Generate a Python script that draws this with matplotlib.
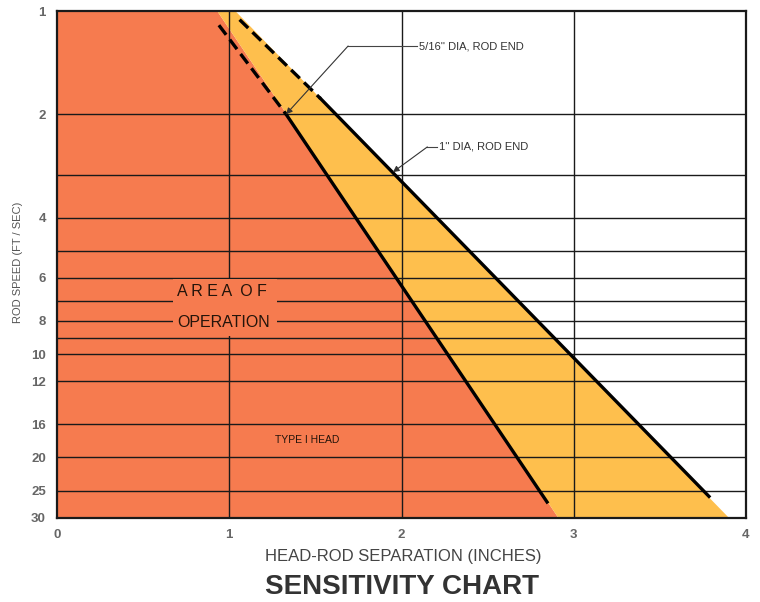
import matplotlib
matplotlib.use('Agg')
import matplotlib.pyplot as plt
from matplotlib.patches import Rectangle

plt.rcParams['font.family'] = ['Liberation Sans', 'DejaVu Sans']

# axis ticks and grid
x_ticks = [0, 1, 2, 3, 4]
y_ticks = [1, 2, 4, 6, 8, 10, 12, 16, 20, 25, 30]
y_grid = [2, 3, 4, 5, 6, 7, 8, 9, 10, 12, 16, 20, 25]
x_grid = [1, 2, 3]

# filled regions (edge positions read at y=1 and y=30)
orange_x = [0, 0.93, 2.91, 0]
orange_y = [1, 1, 30, 30]
yellow_x = [0.93, 1.035, 3.90, 2.91]
yellow_y = [1, 1, 30, 30]

# 5/16" rod end line
inner_dash_x = [0.94, 1.33]
inner_dash_y = [1.1, 2.0]
inner_solid_x = [1.33, 2.845]
inner_solid_y = [2.0, 27.0]

# 1" rod end line
outer_dash_x = [1.06, 1.53]
outer_dash_y = [1.06, 1.8]
outer_solid_x = [1.53, 3.785]
outer_solid_y = [1.8, 26.0]

ORANGE = '#F67B4F'
YELLOW = '#FEBF4D'
GREY = '#555555'

fig = plt.figure(figsize=(7.6, 6.02), dpi=100)
ax = fig.add_axes([57 / 760, 1 - 517.7 / 602, 689 / 760, 506.7 / 602])

ax.set_yscale('log')
ax.set_xlim(0, 4)
ax.set_ylim(30, 1)

ax.fill(orange_x, orange_y, color=ORANGE, lw=0, zorder=1)
ax.fill(yellow_x, yellow_y, color=YELLOW, lw=0, zorder=1)

for g in y_grid:
    ax.axhline(g, color='#1a1a1a', lw=1.0, zorder=2)
for g in x_grid:
    ax.axvline(g, color='#1a1a1a', lw=1.0, zorder=2)

# blank patch behind the "area of operation" text
ax.add_patch(Rectangle((0.675, 6.05), 0.60, 8.85 - 6.05, facecolor=ORANGE,
                       edgecolor='none', zorder=3))

ax.plot(inner_dash_x, inner_dash_y, color='black', lw=2.4, ls=(0, (3.6, 1.8)),
        zorder=4)
ax.plot(inner_solid_x, inner_solid_y, color='black', lw=2.4, zorder=4)
ax.plot(outer_dash_x, outer_dash_y, color='black', lw=2.4, ls=(0, (3.6, 1.8)),
        zorder=4)
ax.plot(outer_solid_x, outer_solid_y, color='black', lw=2.4, zorder=4)

# labels inside the chart
ax.text(0.698, 6.57, 'A R E A  O F', fontsize=11.5, color='#24140a',
        ha='left', va='center', zorder=5)
ax.text(0.698, 8.07, 'OPERATION', fontsize=11.5, color='#24140a',
        ha='left', va='center', zorder=5)
ax.text(1.267, 17.8, 'TYPE I HEAD', fontsize=7.5, color='#24140a',
        ha='left', va='center', zorder=5)

# leaders
ax.text(2.10, 1.265, "5/16'' DIA, ROD END", fontsize=8, color='#333333',
        ha='left', va='center', zorder=5)
ax.plot([2.09, 1.69], [1.265, 1.265], color='#444444', lw=0.8, zorder=5)
ax.annotate('', xy=(1.33, 2.0), xytext=(1.69, 1.265),
            arrowprops=dict(arrowstyle='-|>', color='#333333', lw=0.8,
                            mutation_scale=9, shrinkA=0, shrinkB=0), zorder=5)

ax.text(2.215, 2.49, "1'' DIA, ROD END", fontsize=8, color='#333333',
        ha='left', va='center', zorder=5)
ax.plot([2.205, 2.15], [2.49, 2.49], color='#444444', lw=0.8, zorder=5)
ax.annotate('', xy=(1.95, 2.95), xytext=(2.15, 2.49),
            arrowprops=dict(arrowstyle='-|>', color='#333333', lw=0.8,
                            mutation_scale=9, shrinkA=0, shrinkB=0), zorder=5)

# ticks
ax.set_xticks(x_ticks)
ax.set_xticklabels([str(t) for t in x_ticks])
ax.set_yticks(y_ticks)
ax.set_yticklabels([str(t) for t in y_ticks])
ax.minorticks_off()
ax.tick_params(length=0, labelsize=9.5, labelcolor='#666666')
ax.tick_params(axis='x', pad=8)
ax.tick_params(axis='y', pad=8)
for lab in ax.get_xticklabels() + ax.get_yticklabels():
    lab.set_fontweight('bold')

for sp in ax.spines.values():
    sp.set_linewidth(1.6)
    sp.set_color('#1a1a1a')
    sp.set_zorder(6)

fig.text(18 / 760, 1 - 262 / 602, 'ROD SPEED (FT / SEC)', rotation=90,
         fontsize=8, color=GREY, ha='center', va='center')
fig.text(403 / 760, 1 - 557 / 602, 'HEAD-ROD SEPARATION (INCHES)',
         fontsize=12, color='#444444', ha='center', va='center')
fig.text(402 / 760, 1 - 587 / 602, 'SENSITIVITY CHART', fontsize=20,
         fontweight='bold', color='#333333', ha='center', va='center')

fig.savefig('out.png', dpi=100)
